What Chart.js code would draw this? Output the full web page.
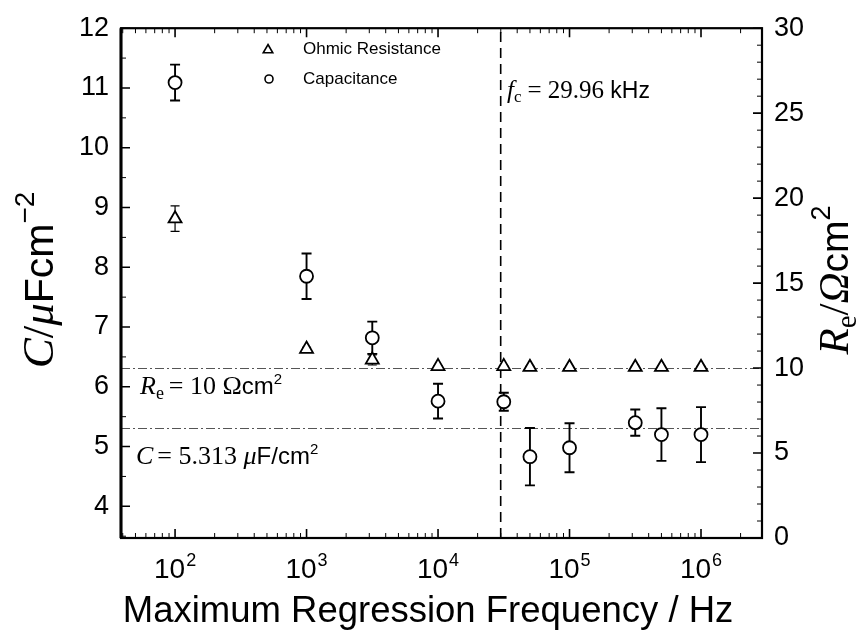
<!DOCTYPE html>
<html>
<head>
<meta charset="utf-8">
<script src="https://cdn.jsdelivr.net/npm/chart.js@4.4.1/dist/chart.umd.min.js"></script>
<style>
html,body{margin:0;padding:0;background:#fff;}
#wrap{width:857px;height:642px;position:relative;}
</style>
</head>
<body>
<div id="wrap"><canvas id="c"></canvas></div>
<script>
// ---- data ----
const freq        = [100, 1000, 3162, 10000, 31623, 50000, 100000, 316228, 500000, 1000000];
const capacitance = [11.09, 7.85, 6.82, 5.76, 5.75, 4.83, 4.98, 5.40, 5.20, 5.20];
const capErr      = [0.30, 0.38, 0.27, 0.29, 0.15, 0.48, 0.41, 0.22, 0.44, 0.46];
const resistance  = [18.79, 11.12, 10.48, 10.10, 10.10, 10.05, 10.05, 10.05, 10.05, 10.05];
const resErr      = [0.75, 0.10, 0.30, 0.05, 0.05, 0.05, 0.05, 0.05, 0.05, 0.05];
const xDecades    = [100, 1000, 10000, 100000, 1000000];
const xExponents  = ['2', '3', '4', '5', '6'];
const cTicks      = [4, 5, 6, 7, 8, 9, 10, 11, 12];
const rTicks      = [0, 5, 10, 15, 20, 25, 30];
const refR = 10;        // Ohm cm^2
const refC = 5.313;     // uF/cm^2
const fcHz = 29960;     // cut-off frequency

const SANS = '"Liberation Sans", Arial, sans-serif';
const SERIF = '"Liberation Serif", "Times New Roman", serif';

function drawRich(ctx, pieces, x, y, align) {
  let total = 0;
  pieces.forEach(p => { ctx.font = p.font; p.w = ctx.measureText(p.t).width; total += p.w + (p.sp || 0); });
  let cx = align === 'center' ? x - total / 2 : x;
  pieces.forEach(p => {
    ctx.font = p.font;
    ctx.textBaseline = 'alphabetic';
    ctx.textAlign = 'left';
    ctx.fillText(p.t, cx, y + (p.dy || 0));
    cx += p.w + (p.sp || 0);
  });
}

const decor = {
  id: 'decor',
  beforeDatasetsDraw(chart) {
    const {ctx, chartArea: a, scales} = chart;
    const x = scales.x, y = scales.y, y2 = scales.y2;
    ctx.save();
    // reference lines
    ctx.strokeStyle = '#555';
    ctx.lineWidth = 1;
    ctx.setLineDash([9, 3, 2, 3]);
    let py = Math.round(y2.getPixelForValue(refR)) + 0.5;
    ctx.beginPath(); ctx.moveTo(a.left, py); ctx.lineTo(a.right, py); ctx.stroke();
    py = Math.round(y.getPixelForValue(refC)) + 0.5;
    ctx.beginPath(); ctx.moveTo(a.left, py); ctx.lineTo(a.right, py); ctx.stroke();
    // vertical dashed cut-off line
    ctx.strokeStyle = '#000';
    ctx.lineWidth = 1.6;
    ctx.setLineDash([10, 6]);
    const px = x.getPixelForValue(fcHz);
    ctx.beginPath(); ctx.moveTo(px, a.bottom); ctx.lineTo(px, a.top); ctx.stroke();
    ctx.setLineDash([]);
    // error bars
    const bars = (vals, errs, sc, lw, cap) => {
      ctx.lineWidth = lw;
      ctx.strokeStyle = '#000';
      freq.forEach((f, i) => {
        const fx = x.getPixelForValue(f);
        const t = sc.getPixelForValue(vals[i] + errs[i]);
        const b = sc.getPixelForValue(vals[i] - errs[i]);
        ctx.beginPath();
        ctx.moveTo(fx, t); ctx.lineTo(fx, b);
        ctx.moveTo(fx - cap, t); ctx.lineTo(fx + cap, t);
        ctx.moveTo(fx - cap, b); ctx.lineTo(fx + cap, b);
        ctx.stroke();
      });
    };
    bars(resistance, resErr, y2, 1.2, 4.5);
    bars(capacitance, capErr, y, 1.9, 5);
    ctx.restore();
  },
  afterDraw(chart) {
    const {ctx, chartArea: a, scales} = chart;
    const x = scales.x, y = scales.y, y2 = scales.y2;
    ctx.save();
    ctx.fillStyle = '#000';
    ctx.strokeStyle = '#000';
    // frame
    ctx.lineWidth = 2.2;
    ctx.strokeRect(a.left, a.top, a.right - a.left, a.bottom - a.top);
    ctx.lineWidth = 3;
    ctx.beginPath(); ctx.moveTo(a.left, a.top); ctx.lineTo(a.left, a.bottom); ctx.stroke();
    // tick marks (inward)
    ctx.lineWidth = 1.6;
    ctx.beginPath();
    xDecades.forEach(d => {
      const px = x.getPixelForValue(d);
      ctx.moveTo(px, a.bottom); ctx.lineTo(px, a.bottom - 9);
      ctx.moveTo(px, a.top); ctx.lineTo(px, a.top + 9);
    });
    cTicks.forEach(v => {
      const p = y.getPixelForValue(v);
      ctx.moveTo(a.left, p); ctx.lineTo(a.left + 9, p);
    });
    rTicks.forEach(v => {
      const p = y2.getPixelForValue(v);
      ctx.moveTo(a.right, p); ctx.lineTo(a.right - 9, p);
    });
    ctx.stroke();
    ctx.lineWidth = 1;
    ctx.beginPath();
    for (let d = 10; d <= 1e6; d *= 10) {
      for (let m = 2; m <= 9; m++) {
        const v = d * m;
        if (v < x.min || v > x.max) continue;
        const px = x.getPixelForValue(v);
        ctx.moveTo(px, a.bottom); ctx.lineTo(px, a.bottom - 5);
        ctx.moveTo(px, a.top); ctx.lineTo(px, a.top + 5);
      }
    }
    for (let v = 3.5; v <= 12; v += 0.5) {
      if (Number.isInteger(v) || v < y.min) continue;
      const p = y.getPixelForValue(v);
      ctx.moveTo(a.left, p); ctx.lineTo(a.left + 5, p);
    }
    for (let v = 1; v < 30; v++) {
      if (v % 5 === 0) continue;
      const p = y2.getPixelForValue(v);
      ctx.moveTo(a.right, p); ctx.lineTo(a.right - 5, p);
    }
    ctx.stroke();

    // x tick labels 10^n
    xDecades.forEach((d, i) => {
      const px = x.getPixelForValue(d);
      ctx.font = '28px ' + SANS;
      const w1 = ctx.measureText('10').width;
      ctx.font = '18px ' + SANS;
      const w2 = ctx.measureText(xExponents[i]).width;
      const sx = px - (w1 + w2 + 1) / 2;
      drawRich(ctx, [
        {t: '10', font: '28px ' + SANS, sp: 1},
        {t: xExponents[i], font: '18px ' + SANS, dy: -12}
      ], sx, a.bottom + 40, 'left');
    });

    // x title
    ctx.font = '36.5px ' + SANS;
    ctx.textAlign = 'center';
    ctx.textBaseline = 'middle';
    ctx.fillText('Maximum Regression Frequency / Hz', 428, 612);

    // left y title
    ctx.save();
    ctx.translate(38, 280);
    ctx.rotate(-Math.PI / 2);
    drawRich(ctx, [
      {t: 'C', font: 'italic 45px ' + SERIF},
      {t: '/', font: '45px ' + SERIF},
      {t: 'μ', font: 'italic 45px ' + SERIF},
      {t: 'Fcm', font: '41px ' + SANS},
      {t: '−2', font: '28px ' + SANS, dy: -19}
    ], 0, 15, 'center');
    ctx.restore();

    // right y title
    ctx.save();
    ctx.translate(834, 280);
    ctx.rotate(-Math.PI / 2);
    drawRich(ctx, [
      {t: 'R', font: 'italic 43px ' + SERIF},
      {t: 'e', font: '29px ' + SERIF, dy: 8},
      {t: '/', font: '43px ' + SERIF},
      {t: 'Ω', font: 'italic 43px ' + SERIF},
      {t: 'cm', font: '39px ' + SANS},
      {t: '2', font: '27px ' + SANS, dy: -18}
    ], 0, 14, 'center');
    ctx.restore();

    // annotations
    drawRich(ctx, [
      {t: 'f', font: 'italic 25px ' + SERIF},
      {t: 'c', font: '17px ' + SERIF, dy: 4, sp: 6},
      {t: '= 29.96 ', font: '25px ' + SERIF},
      {t: 'kHz', font: '23px ' + SANS}
    ], 507, 98, 'left');
    drawRich(ctx, [
      {t: 'R', font: 'italic 26px ' + SERIF},
      {t: 'e', font: '18px ' + SERIF, dy: 5, sp: 5},
      {t: '= 10 Ω', font: '26px ' + SERIF},
      {t: 'cm', font: '24px ' + SANS},
      {t: '2', font: '15px ' + SANS, dy: -10}
    ], 140, 394, 'left');
    drawRich(ctx, [
      {t: 'C', font: 'italic 26px ' + SERIF, sp: 4},
      {t: '= 5.313 ', font: '26px ' + SERIF},
      {t: 'μ', font: 'italic 26px ' + SERIF},
      {t: 'F/cm', font: '24px ' + SANS},
      {t: '2', font: '15px ' + SANS, dy: -10}
    ], 136, 464, 'left');

    // legend
    const ds = chart.data.datasets;
    ctx.lineWidth = 1.6;
    ctx.strokeStyle = '#000';
    ctx.fillStyle = '#fff';
    Chart.helpers.drawPoint(ctx, {pointStyle: 'triangle', radius: 5.5, rotation: 0, borderWidth: 1.6}, 268, 50);
    Chart.helpers.drawPoint(ctx, {pointStyle: 'circle', radius: 4, rotation: 0, borderWidth: 1.6}, 269, 79);
    ctx.fillStyle = '#000';
    ctx.font = '17px ' + SANS;
    ctx.textAlign = 'left';
    ctx.textBaseline = 'middle';
    ctx.fillText(ds[0].label, 303, 49);
    ctx.fillText(ds[1].label, 303, 79);
    ctx.restore();
  }
};

new Chart(document.getElementById('c'), {
  type: 'scatter',
  data: {
    datasets: [
      {
        label: 'Ohmic Resistance',
        yAxisID: 'y2',
        data: freq.map((f, i) => ({x: f, y: resistance[i]})),
        pointStyle: 'triangle',
        pointRadius: 7.5,
        borderColor: '#000',
        backgroundColor: '#fff',
        borderWidth: 1.8
      },
      {
        label: 'Capacitance',
        yAxisID: 'y',
        data: freq.map((f, i) => ({x: f, y: capacitance[i]})),
        pointStyle: 'circle',
        pointRadius: 6.5,
        borderColor: '#000',
        backgroundColor: '#fff',
        borderWidth: 1.8
      }
    ]
  },
  options: {
    responsive: true,
    maintainAspectRatio: false,
    animation: false,
    layout: {padding: {top: 17, left: 0, right: 0, bottom: 0}},
    plugins: {legend: {display: false}, tooltip: {enabled: false}},
    scales: {
      x: {
        type: 'logarithmic',
        min: 38.8,
        max: 2.91e6,
        grid: {display: false, drawTicks: false},
        border: {display: false},
        ticks: {display: false},
        afterBuildTicks(s) { s.ticks = xDecades.map(v => ({value: v})); },
        afterFit(s) { s.height = 104; }
      },
      y: {
        type: 'linear',
        position: 'left',
        min: 3.47,
        max: 12,
        grid: {display: false, drawTicks: false},
        border: {display: false},
        ticks: {color: '#000', padding: 12, font: {family: SANS, size: 27}},
        afterBuildTicks(s) { s.ticks = cTicks.map(v => ({value: v})); },
        afterFit(s) { s.width = 121; }
      },
      y2: {
        type: 'linear',
        position: 'right',
        min: 0,
        max: 30,
        grid: {display: false, drawTicks: false},
        border: {display: false},
        ticks: {color: '#000', padding: 12, font: {family: SANS, size: 27}},
        afterBuildTicks(s) { s.ticks = rTicks.map(v => ({value: v})); },
        afterFit(s) { s.width = 95; }
      }
    }
  },
  plugins: [decor]
});
</script>
</body>
</html>
